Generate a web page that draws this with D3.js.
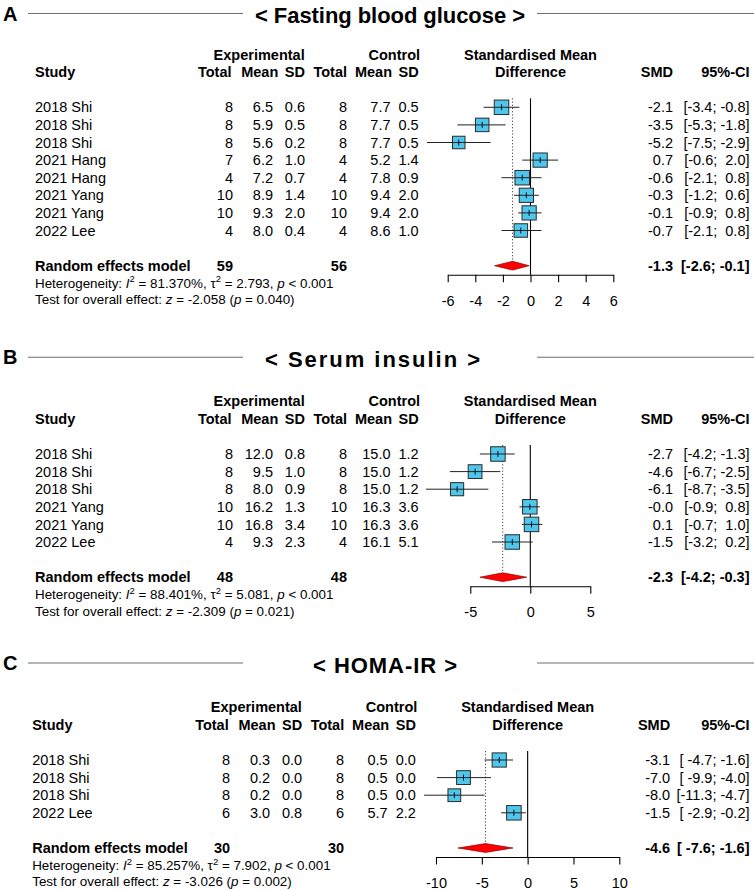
<!DOCTYPE html>
<html><head><meta charset="utf-8">
<script src="https://cdn.jsdelivr.net/npm/d3@7"></script>
<style>
body{margin:0;background:#fff}
text{font-family:"Liberation Sans",Arial,Helvetica,sans-serif;fill:#000}
</style>
</head><body>
<svg id="chart" width="754" height="891"></svg>
<script>
// ---------- Panel A: Fasting blood glucose ----------
const fbgStudies   = ["2018 Shi","2018 Shi","2018 Shi","2021 Hang","2021 Hang","2021 Yang","2021 Yang","2022 Lee"];
const fbgExpTotal  = [8,8,8,7,4,10,10,4];
const fbgExpMean   = [6.5,5.9,5.6,6.2,7.2,8.9,9.3,8.0];
const fbgExpSD     = [0.6,0.5,0.2,1.0,0.7,1.4,2.0,0.4];
const fbgCtrlTotal = [8,8,8,4,4,10,10,4];
const fbgCtrlMean  = [7.7,7.7,7.7,5.2,7.8,9.4,9.4,8.6];
const fbgCtrlSD    = [0.5,0.5,0.5,1.4,0.9,2.0,2.0,1.0];
const fbgSMD       = [-2.1,-3.5,-5.2,0.7,-0.6,-0.3,-0.1,-0.7];
const fbgLower     = [-3.4,-5.3,-7.5,-0.6,-2.1,-1.2,-0.9,-2.1];
const fbgUpper     = [-0.8,-1.8,-2.9,2.0,0.8,0.6,0.8,0.8];
const fbgWeight    = [13.6,11.8,10.1,13.1,13.6,13.1,13.1,11.8];
const fbgPooled    = {smd:-1.3, lower:-2.6, upper:-0.1, nExp:59, nCtrl:56};
const fbgHet       = {i2:"81.370%", tau2:"2.793", p:"< 0.001", z:"-2.058", pz:"= 0.040"};
const fbgTicks     = [-6,-4,-2,0,2,4,6];

// ---------- Panel B: Serum insulin ----------
const insStudies   = ["2018 Shi","2018 Shi","2018 Shi","2021 Yang","2021 Yang","2022 Lee"];
const insExpTotal  = [8,8,8,10,10,4];
const insExpMean   = [12.0,9.5,8.0,16.2,16.8,9.3];
const insExpSD     = [0.8,1.0,0.9,1.3,3.4,2.3];
const insCtrlTotal = [8,8,8,10,10,4];
const insCtrlMean  = [15.0,15.0,15.0,16.3,16.3,16.1];
const insCtrlSD    = [1.2,1.2,1.2,3.6,3.6,5.1];
const insSMD       = [-2.7,-4.6,-6.1,-0.04,0.1,-1.5];
const insLower     = [-4.2,-6.7,-8.7,-0.9,-0.7,-3.2];
const insUpper     = [-1.3,-2.5,-3.5,0.8,1.0,0.2];
const insWeight    = [17.5,15.8,14.3,17.5,17.5,17.5];
const insPooled    = {smd:-2.3, lower:-4.2, upper:-0.3, nExp:48, nCtrl:48};
const insHet       = {i2:"88.401%", tau2:"5.081", p:"< 0.001", z:"-2.309", pz:"= 0.021"};
const insTicks     = [-5,0,5];

// ---------- Panel C: HOMA-IR ----------
const homaStudies   = ["2018 Shi","2018 Shi","2018 Shi","2022 Lee"];
const homaExpTotal  = [8,8,8,6];
const homaExpMean   = [0.3,0.2,0.2,3.0];
const homaExpSD     = [0.0,0.0,0.0,0.8];
const homaCtrlTotal = [8,8,8,6];
const homaCtrlMean  = [0.5,0.5,0.5,5.7];
const homaCtrlSD    = [0.0,0.0,0.0,2.2];
const homaSMD       = [-3.1,-7.0,-8.0,-1.5];
const homaLower     = [-4.7,-9.9,-11.3,-2.9];
const homaUpper     = [-1.6,-4.0,-4.7,-0.2];
const homaWeight    = [26.4,24.9,21.2,27.5];
const homaPooled    = {smd:-4.6, lower:-7.6, upper:-1.6, nExp:30, nCtrl:30};
const homaHet       = {i2:"85.257%", tau2:"7.902", p:"< 0.001", z:"-3.026", pz:"= 0.002"};
const homaTicks     = [-10,-5,0,5,10];

// ---------- assemble ----------
const panels = [
  {letter:"A", title:"< Fasting blood glucose >", studies:fbgStudies, eT:fbgExpTotal, eM:fbgExpMean, eS:fbgExpSD,
   cT:fbgCtrlTotal, cM:fbgCtrlMean, cS:fbgCtrlSD, smd:fbgSMD, lo:fbgLower, hi:fbgUpper, w:fbgWeight,
   pooled:fbgPooled, het:fbgHet, ticks:fbgTicks,
   layout:{lineY:13.5, y0:107.3, domain:[-6,6], range:[447.7,613.3], dx:0, tx:[255,525]}},
  {letter:"B", title:"< Serum insulin >", studies:insStudies, eT:insExpTotal, eM:insExpMean, eS:insExpSD,
   cT:insCtrlTotal, cM:insCtrlMean, cS:insCtrlSD, smd:insSMD, lo:insLower, hi:insUpper, w:insWeight,
   pooled:insPooled, het:insHet, ticks:insTicks,
   layout:{lineY:357.3, y0:454, domain:[-5,5], range:[470.3,590.3], dx:0, tx:[265,480]}},
  {letter:"C", title:"< HOMA-IR >", studies:homaStudies, eT:homaExpTotal, eM:homaExpMean, eS:homaExpSD,
   cT:homaCtrlTotal, cM:homaCtrlMean, cS:homaCtrlSD, smd:homaSMD, lo:homaLower, hi:homaUpper, w:homaWeight,
   pooled:homaPooled, het:homaHet, ticks:homaTicks,
   layout:{lineY:663, y0:760, domain:[-10,10], range:[436,619.3], dx:-2.8, tx:[313,457]}}
];

const svg = d3.select("#chart");
const FS = 14.5, FSsmall = 13.4;
const fmt1 = v => (v < 0 ? "-" : "") + Math.abs(v).toFixed(1);
const ROW = 17.6;

panels.forEach(P => {
  const L = P.layout, dx = L.dx;
  const g = svg.append("g");
  const x = d3.scaleLinear().domain(L.domain).range(L.range);
  const row = d3.scaleLinear().domain([0,1]).range([L.y0, L.y0 + ROW]);
  const n = P.studies.length;
  const reRow = n + 1;
  const yRE = row(reRow);
  const yHet = yRE + 17.3, yTest = yHet + 16.3;
  const axisY = yRE + 9;
  const col = {study:35+dx, eT:233+dx, eM:273+dx, eMh:278.3+dx, eS:305+dx, cT:347+dx, cM:390.5+dx, cMh:392+dx, cS:418.7+dx, smd:673+dx, ci:749.5};
  const bl = c => c + 5.1; // centre -> baseline

  // title rules
  g.append("line").attr("x1",28).attr("x2",243).attr("y1",L.lineY).attr("y2",L.lineY).attr("stroke","#6e6e6e").attr("stroke-width",1.1);
  g.append("line").attr("x1",537).attr("x2",754).attr("y1",L.lineY).attr("y2",L.lineY).attr("stroke","#6e6e6e").attr("stroke-width",1.1);
  g.append("text").attr("x",3).attr("y",L.lineY+7).attr("font-size",20).attr("font-weight","bold").text(P.letter);
  g.append("text").attr("x",L.tx[0]).attr("y",L.lineY+9.6).attr("font-size",22).attr("font-weight","bold")
    .attr("textLength",L.tx[1]-L.tx[0]).attr("lengthAdjust","spacing").text(P.title);

  // headers
  const hdr = (t, xx, r, anchor) => g.append("text").attr("x",xx).attr("y",bl(row(r))).attr("font-size",FS)
      .attr("font-weight","bold").attr("text-anchor",anchor).text(t);
  const pc = (L.range[0]+L.range[1])/2;
  hdr("Experimental", (213.3+305)/2+dx, -3, "middle");
  hdr("Control", 394.3+dx, -3, "middle");
  hdr("Standardised Mean", pc, -3, "middle");
  hdr("Study", col.study, -2, "start");
  hdr("Total", col.eT-1.5, -2, "end");
  hdr("Mean", col.eMh, -2, "end");
  hdr("SD", col.eS, -2, "end");
  hdr("Total", col.cT, -2, "end");
  hdr("Mean", col.cMh, -2, "end");
  hdr("SD", col.cS, -2, "end");
  hdr("Difference", pc, -2, "middle");
  hdr("SMD", col.smd, -2, "end");
  hdr("95%-CI", col.ci, -2, "end");

  // CI strings
  const loS = P.lo.map(fmt1).concat([fmt1(P.pooled.lower)]);
  const hiS = P.hi.map(fmt1).concat([fmt1(P.pooled.upper)]);
  const nl = d3.max(loS, s => s.length), nh = d3.max(hiS, s => s.length);
  const ciStr = i => "[" + loS[i].padStart(nl) + "; " + hiS[i].padStart(nh) + "]";

  const idx = d3.range(n);
  const cell = (vals, xx, anchor) => g.append("g").selectAll("text").data(idx).join("text")
      .attr("x", xx).attr("y", i => bl(row(i))).attr("font-size", FS).attr("text-anchor", anchor)
      .attr("xml:space","preserve").style("white-space","pre").text(i => vals(i));
  cell(i => P.studies[i], col.study, "start");
  cell(i => P.eT[i], col.eT, "end");
  cell(i => P.eM[i].toFixed(1), col.eM, "end");
  cell(i => P.eS[i].toFixed(1), col.eS, "end");
  cell(i => P.cT[i], col.cT, "end");
  cell(i => P.cM[i].toFixed(1), col.cM, "end");
  cell(i => P.cS[i].toFixed(1), col.cS, "end");
  cell(i => fmt1(P.smd[i]), col.smd, "end");
  cell(i => ciStr(i), col.ci, "end");

  // pooled row
  const b = (t, xx, anchor) => g.append("text").attr("x",xx).attr("y",bl(yRE)).attr("font-size",FS)
      .attr("font-weight","bold").attr("text-anchor",anchor).attr("xml:space","preserve").style("white-space","pre").text(t);
  b("Random effects model", col.study, "start");
  b(P.pooled.nExp, col.eT, "end");
  b(P.pooled.nCtrl, col.cT, "end");
  b(fmt1(P.pooled.smd), col.smd, "end");
  b(ciStr(n), col.ci, "end");

  // heterogeneity & test text
  const h = g.append("text").attr("x",col.study).attr("y",bl(yHet)-0.4).attr("font-size",FSsmall);
  h.append("tspan").text("Heterogeneity: ");
  h.append("tspan").attr("font-style","italic").text("I");
  h.append("tspan").attr("font-size",9.5).attr("dy",-5.5).text("2");
  h.append("tspan").attr("dy",5.5).text(" = " + P.het.i2 + ", \u03c4");
  h.append("tspan").attr("font-size",9.5).attr("dy",-5.5).text("2");
  h.append("tspan").attr("dy",5.5).text(" = " + P.het.tau2 + ", ");
  h.append("tspan").attr("font-style","italic").text("p");
  h.append("tspan").text(" " + P.het.p);
  const t = g.append("text").attr("x",col.study).attr("y",bl(yTest)-0.4).attr("font-size",FSsmall);
  t.append("tspan").text("Test for overall effect: ");
  t.append("tspan").attr("font-style","italic").text("z");
  t.append("tspan").text(" = " + P.het.z + " (");
  t.append("tspan").attr("font-style","italic").text("p");
  t.append("tspan").text(" " + P.het.pz + ")");

  // axis
  const ax = g.append("g").attr("transform",`translate(0,${axisY})`)
    .call(d3.axisBottom(x).tickValues(P.ticks).tickSize(7.5).tickSizeOuter(0).tickPadding(13.5).tickFormat(d3.format("d")));
  ax.select(".domain").attr("stroke","#000").attr("stroke-width",1.1);
  ax.selectAll(".tick line").attr("stroke","#000").attr("stroke-width",1.1);
  ax.selectAll(".tick text").attr("font-size",FS).attr("font-family",'"Liberation Sans",Arial,sans-serif').attr("fill","#000")
    .text(d => d < 0 ? "-" + Math.abs(d) : d);

  // null line
  g.append("line").attr("x1",x(0)).attr("x2",x(0)).attr("y1",row(0)-9).attr("y2",axisY).attr("stroke","#000").attr("stroke-width",1.1);
  // pooled dotted line
  g.append("line").attr("x1",x(P.pooled.smd)).attr("x2",x(P.pooled.smd)).attr("y1",row(0)-9).attr("y2",yRE)
    .attr("stroke","#444").attr("stroke-width",1).attr("stroke-dasharray","1.2,2");

  // study marks
  const wMax = d3.max(P.w);
  const side = i => 14.5 * Math.sqrt(P.w[i] / wMax);
  const marks = g.append("g");
  marks.selectAll("rect").data(idx).join("rect")
    .attr("x", i => x(P.smd[i]) - side(i)/2).attr("y", i => row(i) - side(i)/2)
    .attr("width", side).attr("height", side)
    .attr("fill","#4FC6EC").attr("stroke","#2b2b2b").attr("stroke-width",1);
  marks.selectAll("line.ci").data(idx).join("line").attr("class","ci")
    .attr("x1", i => x(P.lo[i])).attr("x2", i => x(P.hi[i]))
    .attr("y1", i => row(i)).attr("y2", i => row(i)).attr("stroke","#222").attr("stroke-width",1);
  marks.selectAll("line.est").data(idx).join("line").attr("class","est")
    .attr("x1", i => x(P.smd[i])).attr("x2", i => x(P.smd[i]))
    .attr("y1", i => row(i) - 3).attr("y2", i => row(i) + 3).attr("stroke","#000").attr("stroke-width",0.9);

  // diamond
  const dh = 4.4;
  g.append("path")
    .attr("d", `M${x(P.pooled.lower)},${yRE} L${x(P.pooled.smd)},${yRE-dh} L${x(P.pooled.upper)},${yRE} L${x(P.pooled.smd)},${yRE+dh} Z`)
    .attr("fill","#FF0000").attr("stroke","#8a0000").attr("stroke-width",0.7);
});
</script>
</body></html>
